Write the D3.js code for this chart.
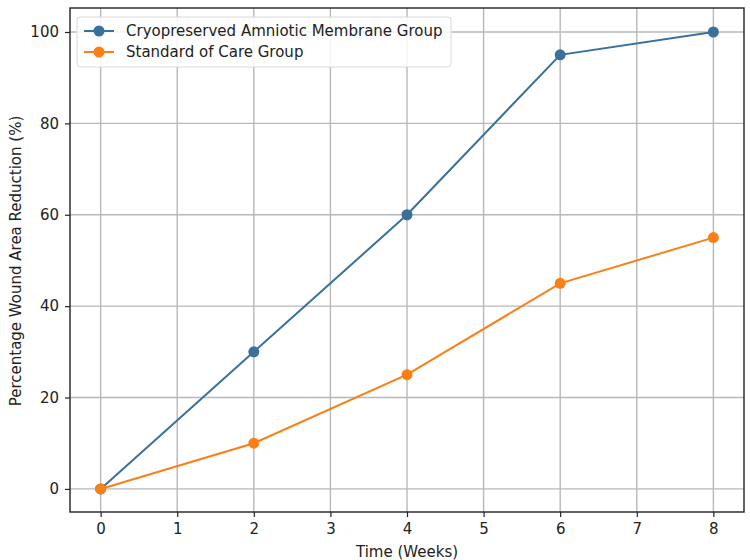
<!DOCTYPE html>
<html>
<head>
<meta charset="utf-8">
<script src="https://cdn.jsdelivr.net/npm/d3@7"></script>
<style>
  body { margin: 0; background: #fff; }
  text { font-family: "DejaVu Sans", sans-serif; fill: #222; }
</style>
</head>
<body>
<div id="chart"></div>
<script>
// data
const weeks = [0, 2, 4, 6, 8];
const amnioticGroup = [0, 30, 60, 95, 100];
const standardCare = [0, 10, 25, 45, 55];
const seriesNames = ["Cryopreserved Amniotic Membrane Group", "Standard of Care Group"];
const xTicks = [0, 1, 2, 3, 4, 5, 6, 7, 8];
const yTicks = [0, 20, 40, 60, 80, 100];

const margin = { top: 8, right: 6, bottom: 48, left: 70 },
  width = 750 - margin.left - margin.right,
  height = 560 - margin.top - margin.bottom;

const svg = d3.select("#chart")
  .append("svg")
    .attr("width", 750)
    .attr("height", 560)
  .append("g")
    .attr("transform", "translate(" + margin.left + "," + margin.top + ")");

const x = d3.scaleLinear().domain([-0.4, 8.4]).range([0, width]);
const y = d3.scaleLinear().domain([-5.05, 105.25]).range([height, 0]);

const colours = ["#3a719c", "#fb7f15"];

// grid
svg.append("g").selectAll("line")
  .data(xTicks).enter().append("line")
  .attr("x1", d => x(d)).attr("x2", d => x(d))
  .attr("y1", 0).attr("y2", height)
  .attr("stroke", "#b8b8b8").attr("stroke-width", 1.4);

svg.append("g").selectAll("line")
  .data(yTicks).enter().append("line")
  .attr("y1", d => y(d)).attr("y2", d => y(d))
  .attr("x1", 0).attr("x2", width)
  .attr("stroke", "#b8b8b8").attr("stroke-width", 1.4);

// axes
const xAxis = svg.append("g")
  .attr("transform", `translate(0, ${height})`)
  .call(d3.axisBottom(x).tickValues(xTicks).tickSize(5).tickPadding(6).tickSizeOuter(0));
const yAxis = svg.append("g")
  .call(d3.axisLeft(y).tickValues(yTicks).tickSize(5).tickPadding(6).tickSizeOuter(0));

[xAxis, yAxis].forEach(a => {
  a.select(".domain").remove();
  a.selectAll(".tick line").attr("stroke", "#222").attr("stroke-width", 1.2);
  a.selectAll(".tick text").style("font-size", "15px").style("font-family", "DejaVu Sans").attr("fill", "#222");
});
xAxis.selectAll(".tick text").filter(d => d === 8).attr("fill", "#bbb");

// frame
svg.append("rect")
  .attr("width", width).attr("height", height)
  .attr("fill", "none").attr("stroke", "#222").attr("stroke-width", 1.4);

// lines
const line = d3.line()
  .x((d, i) => x(weeks[i]))
  .y(d => y(d));

[amnioticGroup, standardCare].forEach((series, k) => {
  svg.append("path")
    .datum(series)
    .attr("fill", "none")
    .attr("stroke", colours[k])
    .attr("stroke-width", 2)
    .attr("d", line);
  svg.append("g").selectAll("circle")
    .data(series).enter().append("circle")
    .attr("cx", (d, i) => x(weeks[i]))
    .attr("cy", d => y(d))
    .attr("r", 5.5)
    .attr("fill", colours[k]);
});

// legend
const legend = svg.append("g").attr("transform", "translate(7, 9)");
legend.append("rect")
  .attr("width", 374).attr("height", 50)
  .attr("rx", 3)
  .attr("fill", "#fff").attr("fill-opacity", 0.85)
  .attr("stroke", "#d8d8d8");

seriesNames.forEach((name, k) => {
  const row = legend.append("g").attr("transform", `translate(0, ${14 + k * 21})`);
  row.append("line")
    .attr("x1", 7).attr("x2", 37)
    .attr("stroke", colours[k]).attr("stroke-width", 2);
  row.append("circle").attr("cx", 22).attr("r", 5.5).attr("fill", colours[k]);
  row.append("text")
    .attr("x", 49).attr("dy", "0.35em")
    .style("font-size", "15px")
    .text(name);
});

// axis labels
svg.append("text")
  .attr("x", width / 2).attr("y", height + 45)
  .attr("text-anchor", "middle")
  .style("font-size", "15px")
  .text("Time (Weeks)");

svg.append("text")
  .attr("transform", `translate(${-49}, ${height / 2 + 1}) rotate(-90)`)
  .attr("text-anchor", "middle")
  .style("font-size", "15px")
  .text("Percentage Wound Area Reduction (%)");
</script>
</body>
</html>
